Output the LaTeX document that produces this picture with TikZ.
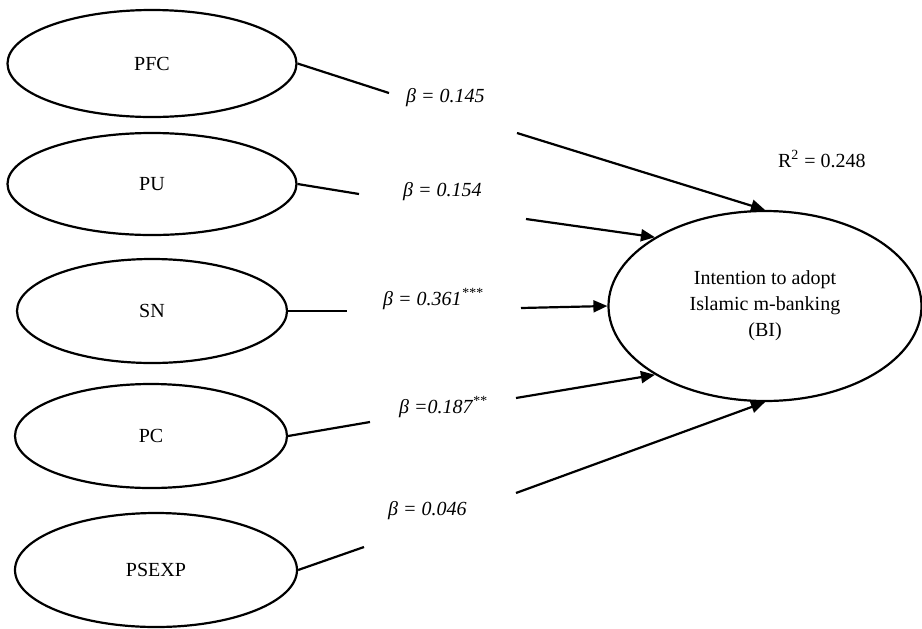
\documentclass[tikz,border=0pt]{standalone}
\usepackage{fontspec}
\setmainfont{Liberation Serif}
\usetikzlibrary{shapes.geometric,arrows.meta}

\begin{document}
\begin{tikzpicture}[x=0.5pt, y=-0.5pt, line width=1.1pt,
  >={Triangle[length=7pt,width=6pt]},
  construct/.style={draw, ellipse, inner sep=0pt, align=center,
    font=\fontsize{10}{13}\selectfont},
  coef/.style={anchor=base west, inner sep=0pt,
    font=\fontsize{10}{12}\selectfont\itshape}]
  \useasboundingbox (0,0) rectangle (922,628);
  % constructs
  \node[construct, minimum width=144.5pt, minimum height=53.5pt] (PFC) at (152,63.5) {PFC};
  \node[construct, minimum width=144.5pt, minimum height=51pt] (PU) at (152,184) {PU};
  \node[construct, minimum width=135pt, minimum height=52pt] (SN) at (152,311) {SN};
  \node[construct, minimum width=136pt, minimum height=52pt] (PC) at (151,436) {PC};
  \node[construct, minimum width=141pt, minimum height=57pt] (PSEXP) at (156,570) {PSEXP};
  \node[construct, minimum width=156.5pt, minimum height=95pt] (BI) at (765,306)
    {Intention to adopt\\Islamic m-banking\\(BI)};
  % path coefficients
  \node[coef] (bPFC) at (405,102) {β = 0.145};
  \node[coef] (bPU) at (402,196) {β = 0.154};
  \node[coef] (bSN) at (382,305) {β = 0.361\textsuperscript{***}};
  \node[coef] (bPC) at (398,413) {β =0.187\textsuperscript{**}};
  \node[coef] (bPSEXP) at (387,515) {β = 0.046};
  \node[coef, font=\fontsize{10}{12}\selectfont] (rsq) at (777,167) {R\textsuperscript{2} = 0.248};
  % paths
  \coordinate (pfc1) at (389,93);
  \coordinate (pfc2) at (517,133);
  \coordinate (pu1) at (359,194);
  \coordinate (pu2) at (526,219);
  \coordinate (sn1) at (347,311);
  \coordinate (sn2) at (521,308);
  \coordinate (pc1) at (370,422);
  \coordinate (pc2) at (516,398);
  \coordinate (psexp1) at (364,547);
  \coordinate (psexp2) at (516,493);
  \draw (PFC.east) -- (pfc1);
  \draw[->] (pfc2) -- (BI.north);
  \draw (PU.east) -- (pu1);
  \draw[->] (pu2) -- (BI.148);
  \draw (SN.east) -- (sn1);
  \draw[->] (sn2) -- (BI.west);
  \draw (PC.east) -- (pc1);
  \draw[->] (pc2) -- (BI.212);
  \draw (PSEXP.east) -- (psexp1);
  \draw[->] (psexp2) -- (BI.south);
\end{tikzpicture}
\end{document}
